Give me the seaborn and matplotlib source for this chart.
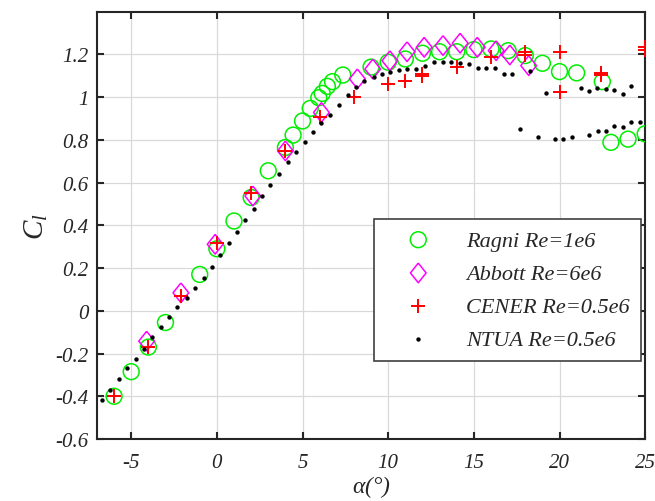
import numpy as np
import pandas as pd
import matplotlib
matplotlib.use("Agg")
import matplotlib.pyplot as plt
import seaborn as sns
from matplotlib.ticker import FuncFormatter, MultipleLocator

# ---------------- data ----------------
ragni_alpha = [-6, -5, -4, -3, -1, 0, 1, 2, 3, 4, 4.45, 5, 5.45, 5.95, 6.15, 6.45,
               6.75, 7.35, 9.0, 10, 11, 12, 13, 14, 15, 16, 17, 18, 19, 20, 21,
               22.5, 23, 24, 25]
ragni_cl = [-0.40, -0.285, -0.17, -0.055, 0.17, 0.29, 0.42, 0.53, 0.655, 0.764,
            0.822, 0.888, 0.947, 0.997, 1.017, 1.05, 1.072, 1.103, 1.14, 1.163,
            1.178, 1.205, 1.212, 1.212, 1.222, 1.225, 1.217, 1.194, 1.158, 1.119,
            1.113, 1.072, 0.788, 0.803, 0.828]

abbott_alpha = [-4.1, -2.1, -0.1, 2.1, 4.0, 6.1, 8.2, 9.1, 10.1, 11.1, 12.1, 13.2,
                14.2, 15.2, 16.3, 17.1, 18.2]
abbott_cl = [-0.142, 0.084, 0.311, 0.537, 0.748, 0.928, 1.085, 1.131, 1.17, 1.212,
             1.233, 1.241, 1.252, 1.233, 1.217, 1.197, 1.147]

cener_alpha = [-6, -4, -2.1, 0, 2, 4, 6, 8, 10, 11, 12, 12, 14, 16, 18, 18, 20, 20,
               22.4, 22.4, 25, 25]
cener_cl = [-0.397, -0.17, 0.069, 0.319, 0.553, 0.748, 0.905, 0.999, 1.061, 1.077,
            1.108, 1.097, 1.139, 1.189, 1.21, 1.198, 1.21, 1.025, 1.113, 1.102,
            1.232, 1.222]

ntua_alpha = [-6.71, -6.23, -5.70, -5.25, -4.73, -4.28, -3.76, -3.27, -2.78, -2.30,
              -1.75, -1.30, -0.78, -0.29, 0.20, 0.68, 1.17, 1.66, 2.14, 2.63, 3.12,
              3.62, 4.13, 4.62, 5.12, 5.61, 6.10, 6.62, 7.11, 7.63, 8.14, 8.61, 9.15,
              9.64, 10.13, 10.61, 11.10, 11.64, 12.17, 12.70, 13.20, 13.69, 14.22,
              14.70, 15.23, 15.73, 16.26, 16.74, 17.23, 17.72, 18.25, 18.75, 19.24,
              19.73, 20.21, 20.70, 21.26, 21.71, 21.73, 22.20, 22.26, 22.73, 22.73,
              23.19, 23.19, 23.70, 23.68, 24.20, 24.19, 24.69]
ntua_cl = [-0.416, -0.369, -0.319, -0.270, -0.224, -0.177, -0.124, -0.075, -0.028,
           0.017, 0.061, 0.105, 0.152, 0.205, 0.260, 0.316, 0.370, 0.424, 0.478,
           0.537, 0.589, 0.639, 0.694, 0.742, 0.788, 0.838, 0.877, 0.916, 0.964,
           1.008, 1.046, 1.074, 1.092, 1.108, 1.119, 1.128, 1.131, 1.131, 1.147,
           1.163, 1.166, 1.166, 1.159, 1.153, 1.135, 1.135, 1.136, 1.108, 1.108,
           0.850, 1.123, 0.814, 1.019, 0.803, 0.806, 0.811, 1.042, 1.027, 0.822,
           1.041, 0.842, 1.038, 0.839, 1.032, 0.866, 1.014, 0.861, 1.050, 0.882,
           0.882]

labels = ["Ragni Re=1e6", "Abbott Re=6e6", "CENER Re=0.5e6", "NTUA Re=0.5e6"]
x_ticks = [-5, 0, 5, 10, 15, 20, 25]
y_ticks = [-0.6, -0.4, -0.2, 0, 0.2, 0.4, 0.6, 0.8, 1, 1.2]

# ---------------- style ----------------
sns.set_style("ticks")
plt.rcParams["font.family"] = ["Liberation Serif", "DejaVu Serif"]
plt.rcParams["font.style"] = "italic"
plt.rcParams["axes.unicode_minus"] = False
plt.rcParams["mathtext.fontset"] = "custom"
plt.rcParams["mathtext.rm"] = "Liberation Serif"
plt.rcParams["mathtext.it"] = "Liberation Serif:italic"

fig = plt.figure(figsize=(6.55, 5.02), dpi=100)
ax = fig.add_axes([0.148, 0.1235, 0.837, 0.8515])

diamond = [(0, 1), (0.8, 0), (0, -1), (-0.8, 0), (0, 1)]

sns.scatterplot(x=ragni_alpha, y=ragni_cl, ax=ax, marker="o", s=130,
                color="#00ee00", facecolor="none", edgecolor="#00ee00",
                linewidth=1.1, label=labels[0], zorder=3)
sns.scatterplot(x=abbott_alpha, y=abbott_cl, ax=ax, marker=diamond, s=200,
                color="#ff00ff", facecolor="none", edgecolor="#ff00ff",
                linewidth=1.1, label=labels[1], zorder=4)
sns.scatterplot(x=cener_alpha, y=cener_cl, ax=ax, marker="+", s=110,
                color="#ff0000", edgecolor="#ff0000",
                linewidth=1.4, label=labels[2], zorder=5)
sns.scatterplot(x=ntua_alpha, y=ntua_cl, ax=ax, marker="o", s=10,
                color="black", edgecolor="black", linewidth=0,
                label=labels[3], zorder=6)

ax.set_xlim(-7, 25)
ax.set_ylim(-0.6, 1.4)
ax.set_xticks(x_ticks)
ax.set_yticks(y_ticks)
ax.xaxis.set_major_formatter(FuncFormatter(lambda v, p: "%g" % round(v, 2)))
ax.yaxis.set_major_formatter(FuncFormatter(lambda v, p: "%g" % round(v, 2)))
ax.grid(True, color="#d9d9d9", linewidth=0.9)
ax.set_axisbelow(True)

for sp in ax.spines.values():
    sp.set_visible(True)
    sp.set_linewidth(1.5)
    sp.set_color("#262626")

ax.tick_params(axis="both", which="major", direction="in", length=5, width=1.5,
               top=True, right=True, labelsize=15, colors="#262626")
ax.tick_params(axis="x", pad=10)
ax.tick_params(axis="y", pad=6)

ax.set_xlabel(r"$\alpha$(°)", fontsize=17, labelpad=1, color="#262626")
ax.set_ylabel(r"$C_l$", fontsize=21, labelpad=4, color="#262626")

leg = ax.legend(loc="upper right", bbox_to_anchor=(0.992, 0.515), fontsize=16,
                frameon=True, fancybox=False, framealpha=1, edgecolor="#404040",
                handlelength=3.0, handletextpad=0.65, labelspacing=0.57,
                borderpad=0.5, borderaxespad=0, scatterpoints=1)
leg.get_frame().set_linewidth(1.2)

fig.savefig("out.png", dpi=100)
